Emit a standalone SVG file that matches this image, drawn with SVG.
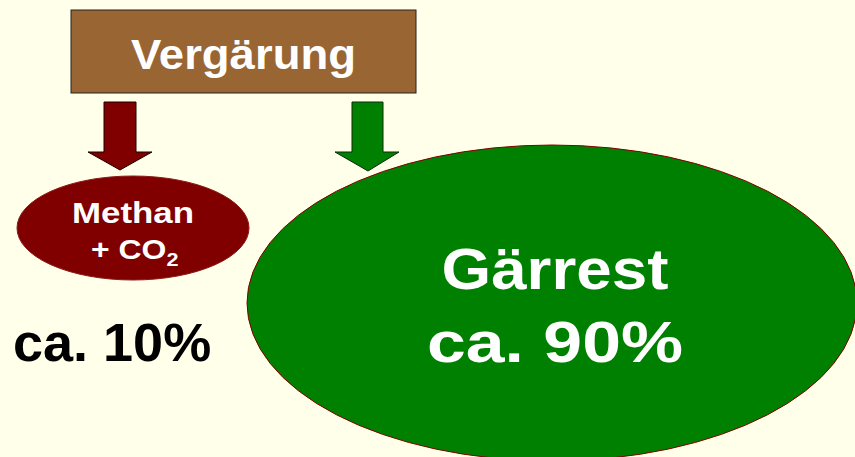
<svg xmlns="http://www.w3.org/2000/svg" width="855" height="457" viewBox="0 0 855 457">
<style>
.t{font-family:"Liberation Sans",Arial,sans-serif;font-weight:bold}
.w{fill:#ffffff}
.red{fill:#800000;stroke:#1a0000;stroke-width:1}
.grn{fill:#008000;stroke:#0a2a0a;stroke-width:1}
</style>
<rect width="855" height="457" fill="#FFFFEA"/>
<g id="connectors">
<polygon class="red" points="104,102 136,102 136,152 152,152 120,170 88,152 104,152"/>
<polygon class="grn" points="352,102 383,102 383,152 399,152 368,171 335,152 352,152"/>
</g>
<g id="vergaerung">
<rect x="71" y="10" width="345" height="83" fill="#996633" stroke="#222222" stroke-width="1"/>
<text class="t w" x="243.5" y="69" font-size="42" text-anchor="middle" textLength="225" lengthAdjust="spacingAndGlyphs">Vergärung</text>
</g>
<g id="methan">
<ellipse cx="133" cy="228" rx="116" ry="52" fill="#800000" stroke="#8a1a1a" stroke-width="1"/>
<text class="t w" x="133" y="223" font-size="29" text-anchor="middle" textLength="122" lengthAdjust="spacingAndGlyphs">Methan</text>
<text class="t w" x="0" y="259" font-size="28" transform="translate(91 0) scale(1.14 1)">+ CO<tspan font-size="19" dy="7">2</tspan></text>
</g>
<g id="anteil10">
<text class="t" x="13" y="361" font-size="54" fill="#000000">ca. 10%</text>
</g>
<g id="gaerrest">
<ellipse cx="552" cy="303" rx="305" ry="158" fill="#008000" stroke="#800000" stroke-width="1"/>
<text class="t w" x="555" y="289" font-size="57" text-anchor="middle" textLength="227" lengthAdjust="spacingAndGlyphs">Gärrest</text>
<text class="t w" x="555" y="362" font-size="57" text-anchor="middle" textLength="256" lengthAdjust="spacingAndGlyphs">ca. 90%</text>
</g>
</svg>
